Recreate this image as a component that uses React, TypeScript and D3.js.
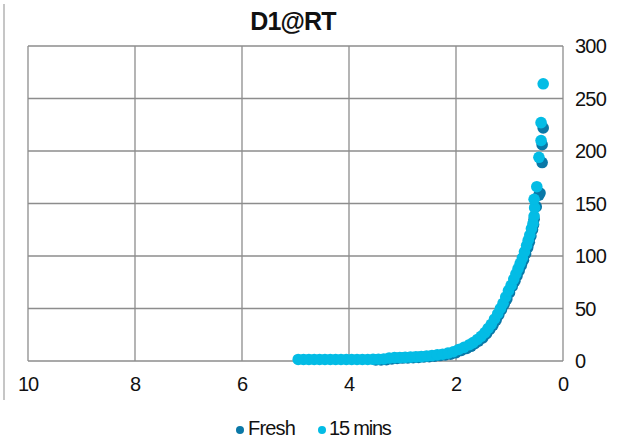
import React from 'react'
import * as d3 from 'd3'

// chart values
const title = 'D1@RT'
const seriesNames = ['Fresh', '15 mins']
const xTicks = [10, 8, 6, 4, 2, 0]
const yTicks = [0, 50, 100, 150, 200, 250, 300]

// [time, value] for each series
const freshPoints: [number, number][] = [
  [3.5, 1], [3.4, 1], [3.3, 1.3], [3.2, 2], [3.1, 2.5], [3.0, 2.8], [2.9, 3], [2.8, 3.2],
  [2.7, 3.5], [2.6, 3.8], [2.5, 4.2], [2.4, 4.6], [2.3, 5.2], [2.2, 5.8], [2.1, 6.5],
  [2.0, 8], [1.9, 10], [1.8, 12], [1.72, 14], [1.65, 16.5], [1.58, 19], [1.5, 22],
  [1.43, 26], [1.37, 30], [1.31, 34], [1.25, 39], [1.2, 44], [1.15, 49], [1.1, 54],
  [1.05, 59], [1.0, 65], [0.95, 71], [0.9, 76], [0.86, 81], [0.82, 86], [0.78, 91],
  [0.74, 96], [0.7, 102], [0.66, 108], [0.63, 113], [0.6, 119], [0.57, 125], [0.55, 130],
  [0.54, 135], [0.5, 147], [0.45, 158], [0.43, 160], [0.39, 189], [0.39, 206], [0.37, 222],
]

const fifteenPoints: [number, number][] = [
  [4.95, 1.5], [4.85, 1.5], [4.75, 1.5], [4.65, 1.5], [4.55, 1.5], [4.45, 1.5], [4.35, 1.5],
  [4.25, 1.5], [4.15, 1.5], [4.05, 1.5], [3.95, 1.5], [3.85, 1.5], [3.75, 1.5], [3.65, 1.5],
  [3.55, 1.6], [3.45, 1.7], [3.35, 1.9], [3.25, 2.8], [3.15, 3.2], [3.05, 3.3], [2.95, 3.5],
  [2.85, 3.7], [2.75, 3.9], [2.65, 4.2], [2.55, 4.7], [2.45, 5.2], [2.35, 5.8], [2.25, 6.5],
  [2.15, 7.5], [2.05, 8.8], [1.95, 11], [1.85, 13], [1.75, 15.5], [1.68, 17.5], [1.6, 20.5],
  [1.53, 23.5], [1.46, 27], [1.4, 31], [1.34, 35], [1.28, 40], [1.22, 45], [1.17, 50],
  [1.12, 55], [1.07, 61], [1.02, 67], [0.97, 72], [0.92, 78], [0.88, 83], [0.84, 88],
  [0.8, 93], [0.76, 98], [0.72, 104], [0.68, 110], [0.65, 115], [0.62, 120], [0.59, 126],
  [0.56, 131], [0.54, 138], [0.53, 146], [0.54, 154], [0.49, 166], [0.45, 194], [0.41, 210],
  [0.41, 227], [0.37, 264],
]

const colors = ['#0a78a7', '#03bce5']

export default function App() {
  // Dimensions
  const width = 627
  const height = 438
  const margin = { top: 46, right: 64, bottom: 77, left: 28 }

  const x = d3.scaleLinear().domain([10, 0]).range([margin.left, width - margin.right])
  const y = d3.scaleLinear().domain([0, 300]).range([height - margin.bottom, margin.top])

  const grid = '#8d8d8d'
  const font = '"Liberation Sans", Arial, sans-serif'
  const series = [freshPoints, fifteenPoints]

  return (
    <svg width={width} height={height} style={{ position: 'absolute', left: 0, top: 0 }}
      fontFamily={font}>
      <rect width={width} height={height} fill="#fff" />
      <line x1={4} x2={4} y1={4} y2={400} stroke="#a0a0a0" strokeWidth={1.2} />

      <text x={293} y={30} textAnchor="middle" fontSize={25} fontWeight="bold"
        letterSpacing={-0.8} fill="#111">{title}</text>

      {/* grid */}
      {yTicks.map(t => (
        <line key={'gy' + t} x1={x(10)} x2={x(0)} y1={y(t)} y2={y(t)} stroke={grid} strokeWidth={1.3} />
      ))}
      {xTicks.map(t => (
        <line key={'gx' + t} x1={x(t)} x2={x(t)} y1={y(0)} y2={y(300)} stroke={grid} strokeWidth={1.3} />
      ))}

      {/* tick labels */}
      {xTicks.map(t => (
        <text key={'tx' + t} x={x(t)} y={y(0) + 30} textAnchor="middle" fontSize={20}
          letterSpacing={-1} fill="#111">{t}</text>
      ))}
      {yTicks.map(t => (
        <text key={'ty' + t} x={x(0) + 12} y={y(t)} dy="0.35em" fontSize={20}
          letterSpacing={-0.8} fill="#111">{t}</text>
      ))}

      {/* points */}
      {series.map((pts, i) => (
        <g key={'s' + i} fill={colors[i]}>
          {pts.map((d, j) => (
            <circle key={j} cx={x(d[0])} cy={y(d[1])} r={5.8} />
          ))}
        </g>
      ))}

      {/* legend */}
      <circle cx={240} cy={430} r={4} fill={colors[0]} />
      <text x={248} y={435} fontSize={20} letterSpacing={-0.8} fill="#111">{seriesNames[0]}</text>
      <circle cx={322} cy={430} r={4} fill={colors[1]} />
      <text x={329} y={435} fontSize={20} letterSpacing={-1.2} fill="#111">{seriesNames[1]}</text>
    </svg>
  )
}
